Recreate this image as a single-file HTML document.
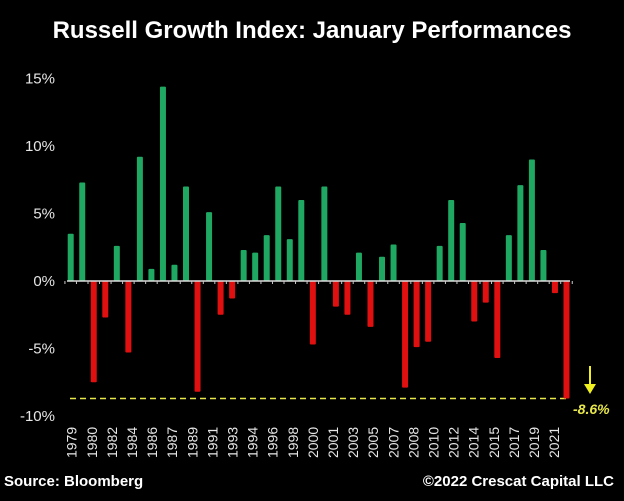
<!DOCTYPE html>
<html><head><meta charset="utf-8"><style>
html,body{margin:0;padding:0;background:#000;}
body{width:624px;height:496px;overflow:hidden;font-family:"Liberation Sans",sans-serif;}
</style></head><body>
<svg id="chart" width="624" height="496" xmlns="http://www.w3.org/2000/svg">
<rect width="624" height="496" fill="#000"/>
<text x="312" y="38" text-anchor="middle" fill="#fff" font-size="24" font-weight="bold" font-family="Liberation Sans, sans-serif">Russell Growth Index: January Performances</text>
<g id="yaxis"></g>
<g id="bars"></g>
<g id="xaxis"></g>
<text x="4" y="486" fill="#fff" font-size="15" font-weight="bold">Source: Bloomberg</text>
<text x="614" y="486" text-anchor="end" fill="#fff" font-size="15" font-weight="bold">©2022 Crescat Capital LLC</text>
</svg>
<script>
const years = [];
for (let y = 1979; y <= 2022; y++) years.push(y);
const values = [3.5,7.3,-7.5,-2.7,2.6,-5.3,9.2,0.9,14.4,1.2,7.0,-8.2,5.1,-2.5,-1.3,2.3,2.1,3.4,7.0,3.1,6.0,-4.7,7.0,-1.9,-2.5,2.1,-3.4,1.8,2.7,-7.9,-4.9,-4.5,2.6,6.0,4.3,-3.0,-1.6,-5.7,3.4,7.1,9.0,2.3,-0.9,-8.7];
const yTicks = [15,10,5,0,-5,-10];
const xLabels = ["1979","1980","1982","1984","1986","1987","1989","1991","1993","1994","1996","1998","2000","2001","2003","2005","2007","2008","2010","2012","2014","2015","2017","2019","2021"];
const refValue = -8.7;
const refLabel = "-8.6%";

const NS = "http://www.w3.org/2000/svg";
const zeroY = 281, pxPer = 13.5;
const x0 = 70.7, step = 11.53;
function yS(v){ return zeroY - v*pxPer; }
function xS(i){ return x0 + i*step; }
function mk(tag, attrs, parent){ const e=document.createElementNS(NS,tag); for(const k in attrs) e.setAttribute(k,attrs[k]); parent.appendChild(e); return e; }

const ya = document.getElementById('yaxis');
yTicks.forEach(t=>{
  const tx = mk('text',{x:55,y:yS(t)+5,'text-anchor':'end',fill:'#e6e6e6','font-size':15},ya);
  
  
  tx.textContent = t + '%';
});

const bg = document.getElementById('bars');
// dashed reference line
const dl = mk('line',{x1:70,x2:xS(values.length-1),y1:yS(refValue),y2:yS(refValue),stroke:'#e8e84a','stroke-width':1.5,'stroke-dasharray':'6,4'},bg);



values.forEach((v,i)=>{
  const top = Math.min(yS(v), zeroY), h = Math.abs(yS(v)-zeroY);
  const r = mk('rect',{x:xS(i)-3,y:top,width:6,height:h,fill: v>=0 ? '#1fa862' : '#e01010',rx:1},bg);
  
  
});

const ax = mk('line',{x1:67,x2:570,y1:zeroY,y2:zeroY,stroke:'#ddd','stroke-width':1.5},bg);


for(let i=0;i<=values.length;i++){
  const tk = mk('line',{x1:xS(i)-step/2,x2:xS(i)-step/2,y1:zeroY,y2:zeroY+3,stroke:'#ccc','stroke-width':1},bg);
  
  
}

// arrow and label
const ar = mk('line',{x1:590,x2:590,y1:366,y2:385,stroke:'#f0f020','stroke-width':2},bg);


const ah = mk('polygon',{points:'584,384 596,384 590,394',fill:'#f0f020'},bg);


const rl = mk('text',{x:573,y:414,fill:'#e8e84a','font-size':14,'font-weight':'bold','font-style':'italic'},bg);


rl.textContent = refLabel;

const xa = document.getElementById('xaxis');
const lx0 = 71.7, lstep = 20.1;
xLabels.forEach((l,i)=>{
  const x = lx0 + i*lstep + 5, y = 458;
  const t = mk('text',{x:x,y:y,fill:'#e6e6e6','font-size':14,transform:`rotate(-90 ${x} ${y})`},xa);
  
  
  t.textContent = l;
});
</script>
</body></html>
